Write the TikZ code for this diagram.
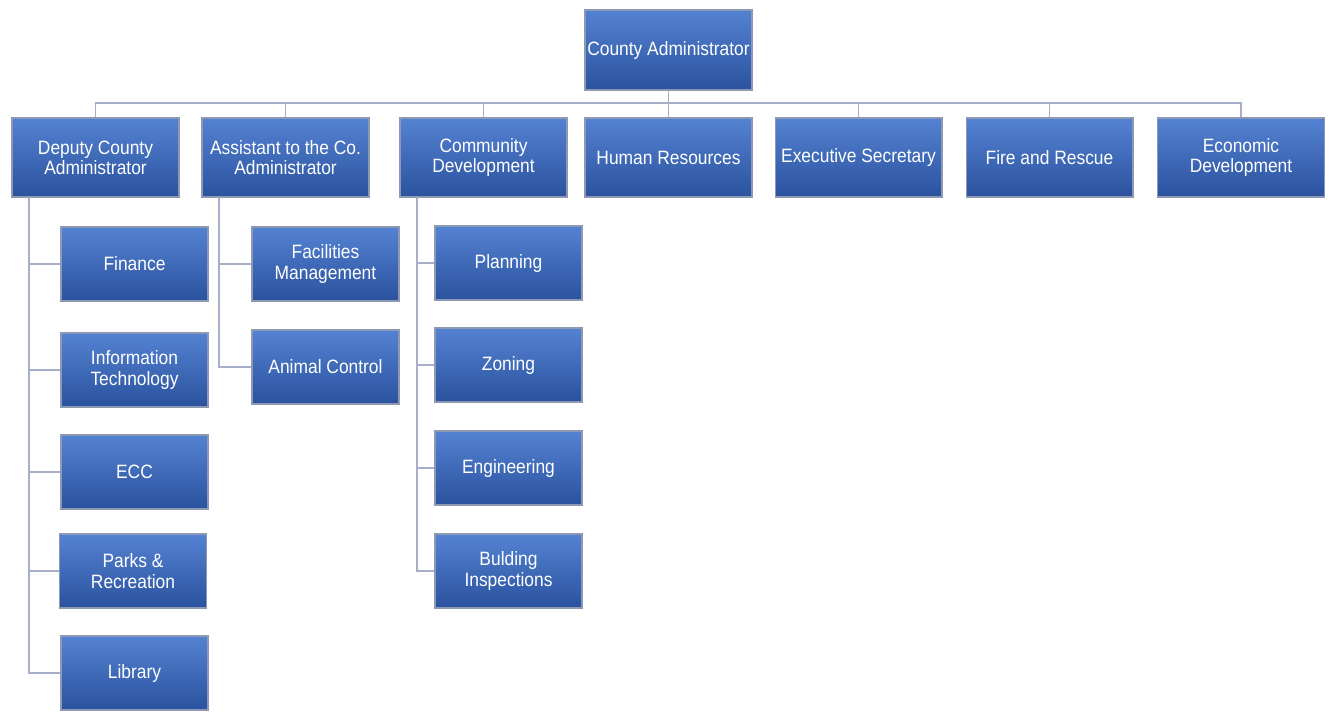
\documentclass[tikz,border=0pt]{standalone}
\usepackage{fontspec}
\newfontfamily\orgfont[FakeStretch=0.9]{Liberation Sans}
\definecolor{boxtop}{RGB}{84,130,210}
\definecolor{boxmid}{RGB}{54,98,180}
\definecolor{boxbot}{RGB}{42,82,158}
\definecolor{boxedge}{RGB}{140,152,180}
\definecolor{linkcol}{RGB}{166,174,201}
\begin{document}
\begin{tikzpicture}[x=0.02cm,y=-0.02cm,
    every node/.style={font={\orgfont\fontsize{11}{11.5}\selectfont}},
    orgbox/.style={rectangle, draw=boxedge, line width=0.6pt,
        top color=boxtop, middle color=boxmid, bottom color=boxbot,
        text=white, align=center, inner sep=0pt},
    headbox/.style={orgbox, minimum width=3.34cm, minimum height=1.58cm},
    unitbox/.style={orgbox, minimum width=2.94cm, minimum height=1.48cm},
    link/.style={draw=linkcol, line width=1.1pt}]
\useasboundingbox (0,0) rectangle (1334,711);

% Macro for a unit below a department
\newcommand{\orgunit}[4]{
    \node[unitbox] (#1) at (#2,#3) {#4};
}

% Top
\node[headbox, minimum height=1.6cm] (ca) at (668.5,50) {County Administrator};
\coordinate (bus) at (0,103);

% Departments
\node[headbox] (dep) at (95.5,157.5) {Deputy County\\Administrator};
\node[headbox] (asst) at (285.5,157.5) {Assistant to the Co.\\Administrator};
\node[headbox] (cdev) at (483.5,157.5) {Community\\Development};
\node[headbox] (hr) at (668.5,157.5) {Human Resources};
\node[headbox] (exec) at (858.5,157.5) {Executive Secretary};
\node[headbox] (fire) at (1049.5,157.5) {Fire and Rescue};
\node[headbox] (econ) at (1241,157.5) {Economic\\Development};

\draw[link] (ca.south) -- (ca.south |- bus);
\draw[link] (dep.north) -- (dep.north |- bus) -- (econ.north |- bus) -- (econ.north);
\foreach \d in {asst,cdev,hr,exec,fire}
    \draw[link] (\d.north) -- (\d.north |- bus);

% Deputy County Administrator
\orgunit{fin}{134.5}{264}{Finance}
\orgunit{it}{134.5}{370}{Information\\Technology}
\orgunit{ecc}{134.5}{472}{ECC}
\orgunit{parks}{133}{571}{Parks \&\\Recreation}
\orgunit{lib}{134.5}{673}{Library}
\coordinate (depline) at (29,197);
\draw[link] (depline) |- (lib.west);
\foreach \u in {fin,it,ecc,parks}
    \draw[link] (\u.west) -- (\u.west -| depline);

% Assistant to the Co. Administrator
\orgunit{fac}{325.5}{264}{Facilities\\Management}
\orgunit{anim}{325.5}{367}{Animal Control}
\coordinate (asstline) at (219,197);
\draw[link] (asstline) |- (anim.west);
\draw[link] (fac.west) -- (fac.west -| asstline);

% Community Development
\orgunit{plan}{508.5}{263}{Planning}
\orgunit{zon}{508.5}{365}{Zoning}
\orgunit{eng}{508.5}{468}{Engineering}
\orgunit{bld}{508.5}{571}{Bulding\\Inspections}
\coordinate (cdevline) at (417,197);
\draw[link] (cdevline) |- (bld.west);
\foreach \u in {plan,zon,eng}
    \draw[link] (\u.west) -- (\u.west -| cdevline);

\end{tikzpicture}
\end{document}
